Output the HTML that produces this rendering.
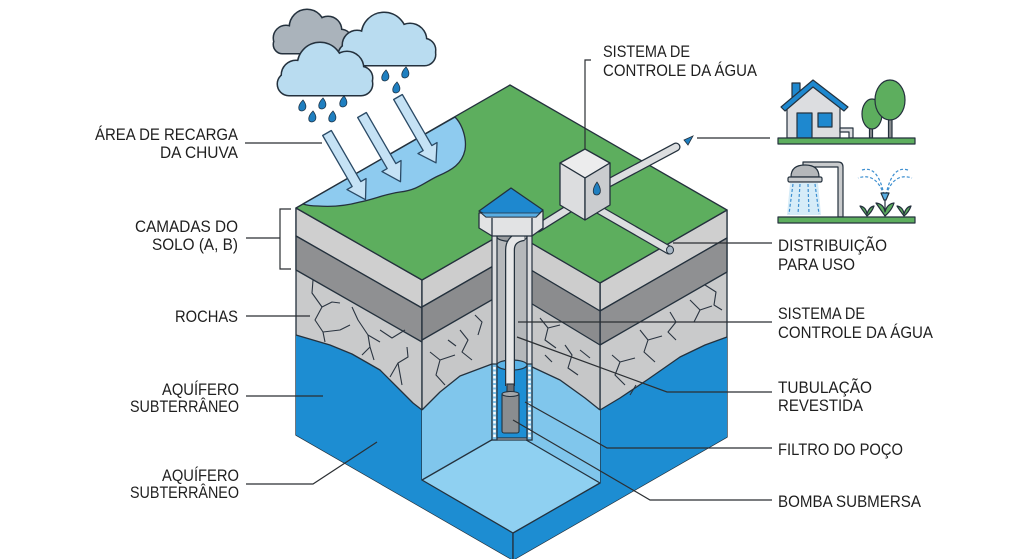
<!DOCTYPE html>
<html><head><meta charset="utf-8"><style>
html,body{margin:0;padding:0;background:#fff;}
svg{display:block;}
text{font-family:"Liberation Sans Narrow","Liberation Sans",sans-serif;font-size:17px;fill:#1f1f1f;}
</style></head><body>
<svg width="1024" height="559" viewBox="0 0 1024 559" xmlns="http://www.w3.org/2000/svg">
<rect width="1024" height="559" fill="#fff"/>

<!-- ===== BLOCK ===== -->
<g stroke="#24313d" stroke-width="1.3" stroke-linejoin="round">
<polygon points="296,208 422,280 422,480 513,533 513,560 296,435" fill="#c9cacb"/>
<polygon points="296,335 330,345 352,354 380,370 400,390 413,403 422,410 422,480 513,533 513,560 296,435" fill="#1d8dd2" stroke="none"/>
<polyline points="296,335 330,345 352,354 380,370 400,390 413,403 422,410" fill="none"/>
<polygon points="296,208 422,280 422,308 296,236" fill="#cfcfcf"/>
<polygon points="296,236 422,308 422,342 296,270" fill="#8f9092"/>
<polygon points="600,283 727,210 727,437 513,560 513,533 600,483" fill="#c9cacb"/>
<polygon points="600,410 620,398 647,380 680,357 705,345 727,337 727,437 513,560 513,533 600,483" fill="#1d8dd2" stroke="none"/>
<polyline points="600,410 620,398 647,380 680,357 705,345 727,337" fill="none"/>
<polygon points="600,283 727,210 727,238 600,311" fill="#cfcfcf"/>
<polygon points="600,311 727,238 727,272 600,345" fill="#8f9092"/>
<polygon points="422,280 509,230 509,430 422,480" fill="#c6c7c8"/>
<polygon points="422,410 440,392 460,376 492,364 509,362 509,430 422,480" fill="#80c6ec" stroke="none"/>
<polyline points="422,410 440,392 460,376 492,364 509,362" fill="none"/>
<polygon points="422,280 509,230 509,257 422,307" fill="#cdcdcd"/>
<polygon points="422,307 509,257 509,290 422,340" fill="#8b8c8e"/>
<polygon points="509,230 600,283 600,483 509,430" fill="#c6c7c8"/>
<polygon points="509,362 530,366 560,380 585,398 600,410 600,483 509,430" fill="#80c6ec" stroke="none"/>
<polyline points="509,362 530,366 560,380 585,398 600,410" fill="none"/>
<polygon points="509,230 600,283 600,311 509,257" fill="#cdcdcd"/>
<polygon points="509,257 600,311 600,345 509,290" fill="#8b8c8e"/>
<polygon points="422,480 509,430 600,483 513,533" fill="#8fd0f1"/>
<line x1="513" y1="533" x2="513" y2="560"/>
<polygon points="296,208 510,85 727,210 600,283 509,230 422,280" fill="#5dae5e"/>
<path d="M303,204 L455,117 C462,124 467,138 465,150 C462,164 452,170 438,176 C425,182 418,190 400,192 C385,194 375,199 360,202 C345,206 330,207 318,206 C310,206 306,205 303,204 Z" fill="#8ecbef"/>
</g>

<!-- cracks -->
<g fill="none" stroke="#2a3440" stroke-width="1.1" stroke-linejoin="round">
<polyline points="313,280 312,293 322,307 315,320 323,332 325,342"/>
<polyline points="322,307 332,302 340,303"/>
<polyline points="323,332 340,330 350,325"/>
<polyline points="352,307 358,320 368,335 370,347 362,355"/>
<polyline points="368,335 380,342"/>
<polyline points="370,347 374,360"/>
<polyline points="407,347 408,357 398,363 390,377"/>
<polyline points="398,363 402,385"/>
<polyline points="380,330 392,338 405,330"/>
<polyline points="430,352 440,360 436,375 445,385"/>
<polyline points="440,360 455,355"/>
<polyline points="460,330 468,340 462,352 472,360"/>
<polyline points="475,315 482,322 478,335"/>
<polyline points="448,340 456,346"/>
<polyline points="540,318 548,328 545,340 556,348"/>
<polyline points="548,328 560,325"/>
<polyline points="565,345 572,355 568,368 578,375"/>
<polyline points="580,350 590,358"/>
<polyline points="545,355 552,362"/>
<polyline points="612,355 620,362 615,375 625,385"/>
<polyline points="620,362 635,358"/>
<polyline points="640,330 648,340 644,352 655,362"/>
<polyline points="648,340 662,336"/>
<polyline points="670,312 676,322 668,332 676,340"/>
<polyline points="690,300 700,310 694,322"/>
<polyline points="700,310 712,306"/>
<polyline points="705,285 716,292 714,305 722,310"/>
<polyline points="630,395 636,385"/>
</g>

<!-- arrows -->
<g fill="#c5e2f5" stroke="#2a4a66" stroke-width="1.3" stroke-linejoin="round">
<polygon transform="translate(327,133) rotate(60)" points="0,-5 59,-5 59,-11 77,0 59,11 59,5 0,5"/>
<polygon transform="translate(362,115) rotate(60)" points="0,-5 59,-5 59,-11 77,0 59,11 59,5 0,5"/>
<polygon transform="translate(398,97) rotate(60)" points="0,-5 59,-5 59,-11 76,0 59,11 59,5 0,5"/>
</g>

<!-- clouds -->
<g stroke="#24313d" stroke-width="3" fill="#aab3bb">
<circle cx="286" cy="38" r="12"/><circle cx="307" cy="27" r="17"/><circle cx="328" cy="30" r="13"/><circle cx="341" cy="40" r="10"/><rect x="274" y="36" width="77" height="17" rx="8.5"/>
</g>
<g fill="#aab3bb">
<circle cx="286" cy="38" r="12"/><circle cx="307" cy="27" r="17"/><circle cx="328" cy="30" r="13"/><circle cx="341" cy="40" r="10"/><rect x="274" y="36" width="77" height="17" rx="8.5"/>
</g>
<g stroke="#24313d" stroke-width="3" fill="#b9dcf0">
<circle cx="357" cy="45" r="14"/><circle cx="384" cy="35" r="22"/><circle cx="410" cy="40" r="16"/><circle cx="424" cy="50" r="11"/><rect x="339" y="44" width="96" height="21" rx="10.5"/>
</g>
<g fill="#b9dcf0">
<circle cx="357" cy="45" r="14"/><circle cx="384" cy="35" r="22"/><circle cx="410" cy="40" r="16"/><circle cx="424" cy="50" r="11"/><rect x="339" y="44" width="96" height="21" rx="10.5"/>
</g>
<g stroke="#24313d" stroke-width="3" fill="#b9dcf0">
<circle cx="296" cy="75" r="14"/><circle cx="320" cy="65" r="22"/><circle cx="347" cy="68" r="16"/><circle cx="361" cy="78" r="11"/><rect x="278" y="73" width="94" height="22" rx="11"/>
</g>
<g fill="#b9dcf0">
<circle cx="296" cy="75" r="14"/><circle cx="320" cy="65" r="22"/><circle cx="347" cy="68" r="16"/><circle cx="361" cy="78" r="11"/><rect x="278" y="73" width="94" height="22" rx="11"/>
</g>
<g fill="#1f7fc0" stroke="#1d3448" stroke-width="0.8">
<path d="M303,100 C307,105 307,110 302,111 C298,111 297,106 303,100Z"/>
<path d="M323,98 C327,103 327,108 322,109 C318,109 317,104 323,98Z"/>
<path d="M344,96 C348,101 348,106 343,107 C339,107 338,102 344,96Z"/>
<path d="M313,111 C317,116 317,121 312,122 C308,122 307,117 313,111Z"/>
<path d="M333,111 C337,116 337,121 332,122 C328,122 327,117 333,111Z"/>
<path d="M386,70 C390,75 390,80 385,81 C381,81 380,76 386,70Z"/>
<path d="M406,67 C410,72 410,77 405,78 C401,78 400,73 406,67Z"/>
<path d="M397,82 C401,87 401,92 396,93 C392,93 391,88 397,82Z"/>
</g>

<!-- pipes above ground -->
<g fill="none" stroke-linecap="round">
<line x1="538" y1="228" x2="570" y2="208" stroke="#24313d" stroke-width="9"/>
<line x1="538" y1="228" x2="570" y2="208" stroke="#dcdee0" stroke-width="6.5"/>
<line x1="603" y1="186" x2="676" y2="147" stroke="#24313d" stroke-width="9"/>
<line x1="603" y1="186" x2="676" y2="147" stroke="#dcdee0" stroke-width="6.5"/>
<line x1="596" y1="208" x2="669" y2="250" stroke="#24313d" stroke-width="9"/>
<line x1="596" y1="208" x2="669" y2="250" stroke="#dcdee0" stroke-width="6.5"/>
</g>
<ellipse cx="670" cy="250" rx="3.5" ry="4" fill="#a9b8c6" stroke="#24313d" stroke-width="1"/>
<polygon points="684,140 693,136 688,145" fill="#1f7fc0" stroke="#24313d" stroke-width="0.8"/>
<g stroke="#24313d" stroke-width="1.3" stroke-linejoin="round">
<polygon points="585,149 610,163 585,178 560,163" fill="#ececed"/>
<polygon points="560,163 585,178 585,220 560,205" fill="#dcdddf"/>
<polygon points="585,178 610,163 610,205 585,220" fill="#cacccf"/>
<path d="M597,182 C601,188 602,194 597,195 C592,195 592,189 597,182Z" fill="#1f7fc0" stroke-width="0.8"/>
</g>

<!-- well casing -->
<g stroke="#24313d" stroke-width="1.2">
<rect x="492" y="232" width="40" height="208" fill="#dcdddf"/>
<rect x="497" y="236" width="30" height="128" fill="#b5b8bb"/>
<rect x="492" y="364" width="5" height="76" fill="#7cc0e8"/>
<rect x="527" y="364" width="5" height="76" fill="#7cc0e8"/>
<rect x="497" y="364" width="30" height="74" fill="#1e8fd5"/>
<ellipse cx="512" cy="365" rx="15" ry="5" fill="#5cb3e6"/>
<ellipse cx="512" cy="237" rx="15" ry="4.5" fill="#9a9da0"/>
</g>
<g stroke="#fff" stroke-width="2.5" stroke-dasharray="2.5,2">
<line x1="494.5" y1="367" x2="494.5" y2="438"/>
<line x1="529.5" y1="367" x2="529.5" y2="438"/>
</g>
<path d="M510,386 V250 Q510,238 524,236" fill="none" stroke="#24313d" stroke-width="10"/>
<path d="M510,386 V250 Q510,238 524,236" fill="none" stroke="#e6e7e8" stroke-width="7.5"/>
<g stroke="#24313d" stroke-width="1.1">
<rect x="507" y="384" width="7" height="10" fill="#6d7074"/>
<rect x="502" y="393" width="17" height="40" rx="2" fill="#8a8d90"/>
<ellipse cx="510.5" cy="394" rx="8.5" ry="2.5" fill="#a5a8ab"/>
</g>
<g stroke="#24313d" stroke-width="1.3" stroke-linejoin="round">
<polygon points="479,213 543,211 543,228 532,236 492,236 479,228" fill="#e2e3e4"/>
<line x1="492" y1="218" x2="492" y2="236"/>
<line x1="532" y1="218" x2="532" y2="236"/>
<polygon points="511,188 543,210 536,217 486,217 479,211" fill="#1e88cf"/>
<polygon points="479,211 486,217 536,217 543,210 540,213 483,213" fill="#5aaee3" stroke-width="0.8"/>
</g>

<!-- ===== RIGHT ICONS ===== -->
<g stroke="#24313d" stroke-width="1.2" stroke-linejoin="round">
<rect x="792" y="83" width="8" height="14" fill="#1e88cf"/>
<polygon points="787,106 813,86 840,106 840,138 787,138" fill="#dcdde0"/>
<polygon points="813,80 848,107 844,111 813,87 785,111 781,107" fill="#1e88cf"/>
<rect x="797" y="113" width="15" height="25" fill="#1e88cf"/>
<rect x="818" y="113" width="14" height="14" fill="#1e88cf"/>
<path d="M840,128 H853 V138 H849 V132 H840 Z" fill="#dcdde0"/>
<rect x="869.5" y="118" width="3" height="20" fill="#8a8d90"/>
<ellipse cx="872" cy="114" rx="10" ry="15" fill="#5dae5e"/>
<rect x="888.5" y="115" width="3.5" height="23" fill="#8a8d90"/>
<ellipse cx="890" cy="100" rx="15" ry="20" fill="#5dae5e"/>
<rect x="778" y="138" width="137" height="6" fill="#5dae5e"/>
<path d="M790,183 L787,215 L821,215 L818,183 Z" fill="#d6ecf8" stroke="none"/>
<g stroke="#3d8fd0" stroke-width="1.2" stroke-dasharray="3,2" fill="none">
<line x1="793" y1="184" x2="789" y2="214"/><line x1="800" y1="184" x2="798" y2="214"/><line x1="808" y1="184" x2="809" y2="214"/><line x1="815" y1="184" x2="819" y2="214"/>
</g>
<path d="M803,162 H838 Q843,162 843,167 V217 H838 V167 H803 Z" fill="#c9cbcd"/>
<path d="M791,177 Q791,165 805,165 Q819,165 819,177 Z" fill="#b4b7ba"/>
<rect x="788" y="177" width="34" height="5" rx="1.5" fill="#c9cbcd"/>
<g stroke="#3d8fd0" stroke-width="1.2" stroke-dasharray="3,2" fill="none">
<path d="M884,195 Q876,172 858,178"/><path d="M884,195 Q878,165 862,170"/>
<path d="M886,195 Q894,172 912,178"/><path d="M886,195 Q892,165 908,170"/>
</g>
<path d="M881,193 H889 L886,200 H884 Z" fill="#5aaee3"/>
<line x1="885" y1="200" x2="885" y2="216"/>
<path d="M867,216 Q861,208 860,206 Q866,207 867,214 Q869,207 874,206 Q872,212 867,216Z" fill="#5dae5e"/>
<path d="M885,216 Q878,206 876,203 Q884,204 885,212 Q887,204 894,203 Q892,210 885,216Z" fill="#5dae5e"/>
<path d="M904,216 Q898,208 897,206 Q903,207 904,214 Q906,207 911,206 Q909,212 904,216Z" fill="#5dae5e"/>
<rect x="778" y="217" width="137" height="6" fill="#5dae5e"/>
</g>

<!-- ===== LEADER LINES ===== -->
<g fill="none" stroke="#2b2f33" stroke-width="1.2">
<line x1="245" y1="143" x2="322" y2="143"/>
<line x1="246" y1="238" x2="280" y2="238"/>
<path d="M291,209 H280 V269 H291"/>
<line x1="246" y1="316" x2="310" y2="316"/>
<line x1="246" y1="396" x2="323" y2="396"/>
<path d="M246,484 H313 L377,442"/>
<path d="M591,60 H585 V149"/>
<line x1="697" y1="138" x2="770" y2="138"/>
<line x1="673" y1="243" x2="772" y2="243"/>
<line x1="518" y1="322" x2="772" y2="322"/>
<path d="M517,337 L667,392 H772"/>
<path d="M525,402 L607,448 H772"/>
<path d="M513,420 L650,500 H772"/>
</g>

<!-- ===== LABELS ===== -->
<text x="95" y="140" textLength="143" lengthAdjust="spacingAndGlyphs">ÁREA DE RECARGA</text>
<text x="160" y="158" textLength="78" lengthAdjust="spacingAndGlyphs">DA CHUVA</text>
<text x="135" y="232" textLength="103" lengthAdjust="spacingAndGlyphs">CAMADAS DO</text>
<text x="152" y="250" textLength="86" lengthAdjust="spacingAndGlyphs">SOLO (A, B)</text>
<text x="175" y="322" textLength="63" lengthAdjust="spacingAndGlyphs">ROCHAS</text>
<text x="162" y="395" textLength="77" lengthAdjust="spacingAndGlyphs">AQUÍFERO</text>
<text x="130" y="412" textLength="109" lengthAdjust="spacingAndGlyphs">SUBTERRÂNEO</text>
<text x="162" y="481" textLength="77" lengthAdjust="spacingAndGlyphs">AQUÍFERO</text>
<text x="130" y="498" textLength="109" lengthAdjust="spacingAndGlyphs">SUBTERRÂNEO</text>

<text x="603" y="57" textLength="87" lengthAdjust="spacingAndGlyphs">SISTEMA DE</text>
<text x="603" y="76" textLength="154" lengthAdjust="spacingAndGlyphs">CONTROLE DA ÁGUA</text>

<text x="778" y="251" textLength="109" lengthAdjust="spacingAndGlyphs">DISTRIBUIÇÃO</text>
<text x="778" y="270" textLength="77" lengthAdjust="spacingAndGlyphs">PARA USO</text>
<text x="778" y="319" textLength="87" lengthAdjust="spacingAndGlyphs">SISTEMA DE</text>
<text x="778" y="338" textLength="155" lengthAdjust="spacingAndGlyphs">CONTROLE DA ÁGUA</text>
<text x="778" y="393" textLength="94" lengthAdjust="spacingAndGlyphs">TUBULAÇÃO</text>
<text x="778" y="411" textLength="85" lengthAdjust="spacingAndGlyphs">REVESTIDA</text>
<text x="778" y="455" textLength="125" lengthAdjust="spacingAndGlyphs">FILTRO DO POÇO</text>
<text x="778" y="507" textLength="143" lengthAdjust="spacingAndGlyphs">BOMBA SUBMERSA</text>
</svg>
</body></html>
